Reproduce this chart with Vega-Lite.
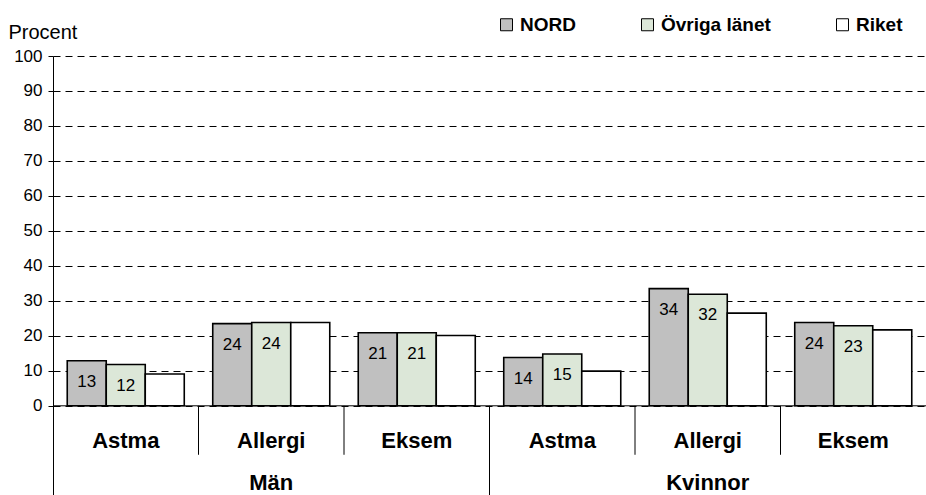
{
  "$schema": "https://vega.github.io/schema/vega-lite/v6.json",
  "width": 873,
  "height": 439,
  "autosize": {"type": "none"},
  "padding": {"left": 53, "top": 56, "right": 0, "bottom": 0},
  "background": "white",
  "config": {"view": {"stroke": null}, "font": "Liberation Sans"},
  "datasets": {
    "bars": [
      {"gender": "Män", "cat": "Astma", "grp": "Män Astma", "series": "NORD", "value": 12.9, "label": "13"},
      {"gender": "Män", "cat": "Astma", "grp": "Män Astma", "series": "Övriga länet", "value": 11.8, "label": "12"},
      {"gender": "Män", "cat": "Astma", "grp": "Män Astma", "series": "Riket", "value": 9.1, "label": ""},
      {"gender": "Män", "cat": "Allergi", "grp": "Män Allergi", "series": "NORD", "value": 23.5, "label": "24"},
      {"gender": "Män", "cat": "Allergi", "grp": "Män Allergi", "series": "Övriga länet", "value": 23.8, "label": "24"},
      {"gender": "Män", "cat": "Allergi", "grp": "Män Allergi", "series": "Riket", "value": 23.8, "label": ""},
      {"gender": "Män", "cat": "Eksem", "grp": "Män Eksem", "series": "NORD", "value": 20.9, "label": "21"},
      {"gender": "Män", "cat": "Eksem", "grp": "Män Eksem", "series": "Övriga länet", "value": 20.9, "label": "21"},
      {"gender": "Män", "cat": "Eksem", "grp": "Män Eksem", "series": "Riket", "value": 20.1, "label": ""},
      {"gender": "Kvinnor", "cat": "Astma", "grp": "Kvinnor Astma", "series": "NORD", "value": 13.8, "label": "14"},
      {"gender": "Kvinnor", "cat": "Astma", "grp": "Kvinnor Astma", "series": "Övriga länet", "value": 14.8, "label": "15"},
      {"gender": "Kvinnor", "cat": "Astma", "grp": "Kvinnor Astma", "series": "Riket", "value": 9.9, "label": ""},
      {"gender": "Kvinnor", "cat": "Allergi", "grp": "Kvinnor Allergi", "series": "NORD", "value": 33.5, "label": "34"},
      {"gender": "Kvinnor", "cat": "Allergi", "grp": "Kvinnor Allergi", "series": "Övriga länet", "value": 31.9, "label": "32"},
      {"gender": "Kvinnor", "cat": "Allergi", "grp": "Kvinnor Allergi", "series": "Riket", "value": 26.5, "label": ""},
      {"gender": "Kvinnor", "cat": "Eksem", "grp": "Kvinnor Eksem", "series": "NORD", "value": 23.8, "label": "24"},
      {"gender": "Kvinnor", "cat": "Eksem", "grp": "Kvinnor Eksem", "series": "Övriga länet", "value": 22.9, "label": "23"},
      {"gender": "Kvinnor", "cat": "Eksem", "grp": "Kvinnor Eksem", "series": "Riket", "value": 21.7, "label": ""}
    ],
    "groups": [
      {"grp": "Män Astma", "cat": "Astma"},
      {"grp": "Män Allergi", "cat": "Allergi"},
      {"grp": "Män Eksem", "cat": "Eksem"},
      {"grp": "Kvinnor Astma", "cat": "Astma"},
      {"grp": "Kvinnor Allergi", "cat": "Allergi"},
      {"grp": "Kvinnor Eksem", "cat": "Eksem"}
    ]
  },
  "layer": [
    {
      "data": {"name": "bars"},
      "mark": {"type": "bar", "stroke": "black", "strokeWidth": 1.6},
      "encoding": {
        "x": {"field": "grp", "type": "nominal", "scale": {"domain": ["Män Astma", "Män Allergi", "Män Eksem", "Kvinnor Astma", "Kvinnor Allergi", "Kvinnor Eksem"], "paddingInner": 0, "paddingOuter": 0}, "axis": null},
        "xOffset": {"field": "series", "type": "nominal", "scale": {"domain": ["NORD", "Övriga länet", "Riket"], "paddingInner": 0, "paddingOuter": 0.365}},
        "y": {"field": "value", "type": "quantitative", "scale": {"domain": [-25.5, 100], "nice": false},
          "axis": {"values": [0, 10, 20, 30, 40, 50, 60, 70, 80, 90, 100], "grid": true, "gridDash": [7, 5], "gridColor": "black", "gridWidth": 1, "gridOpacity": 1,
            "domainColor": "black", "domainWidth": 1, "tickColor": "black", "tickSize": 5, "tickWidth": 1,
            "labelFont": "Liberation Sans", "labelFontSize": 17, "labelColor": "black", "labelPadding": 6,
            "title": "Procent", "titleAngle": 0, "titleAlign": "left", "titleBaseline": "middle", "titleX": -45, "titleY": -24,
            "titleFont": "Liberation Sans", "titleFontSize": 20, "titleFontWeight": "normal", "titleColor": "black"}},
        "y2": {"datum": 0},
        "fill": {"field": "series", "type": "nominal", "scale": {"domain": ["NORD", "Övriga länet", "Riket"], "range": ["#c0c0c0", "#dce7d8", "#ffffff"]},
          "legend": {"orient": "none", "legendX": 444, "legendY": -41, "direction": "horizontal", "title": null,
            "symbolType": "square", "symbolSize": 144, "symbolStrokeColor": "black", "symbolStrokeWidth": 1, "symbolOpacity": 1,
            "labelFont": "Liberation Sans", "labelFontSize": 19, "labelFontWeight": "bold", "labelColor": "black", "labelOffset": 4,
            "columnPadding": 62}}
      }
    },
    {
      "data": {"name": "bars"},
      "mark": {"type": "text", "fontSize": 17, "baseline": "middle", "dy": 21, "color": "black", "font": "Liberation Sans"},
      "encoding": {
        "x": {"field": "grp", "type": "nominal"},
        "xOffset": {"field": "series", "type": "nominal"},
        "y": {"field": "value", "type": "quantitative"},
        "text": {"field": "label"}
      }
    },
    {
      "data": {"values": [{"z": 0}]},
      "mark": {"type": "rule", "color": "black", "strokeWidth": 1},
      "encoding": {"y": {"datum": 0}}
    },
    {
      "data": {"values": [{"grp": "Män Allergi"}, {"grp": "Män Eksem"}, {"grp": "Kvinnor Allergi"}, {"grp": "Kvinnor Eksem"}]},
      "mark": {"type": "rule", "color": "black", "strokeWidth": 1},
      "encoding": {
        "x": {"field": "grp", "type": "nominal", "bandPosition": 0},
        "y": {"datum": 0},
        "y2": {"datum": -14}
      }
    },
    {
      "data": {"values": [{"grp": "Kvinnor Astma"}]},
      "mark": {"type": "rule", "color": "black", "strokeWidth": 1},
      "encoding": {
        "x": {"field": "grp", "type": "nominal", "bandPosition": 0},
        "y": {"datum": 0},
        "y2": {"datum": -25.5}
      }
    },
    {
      "data": {"name": "groups"},
      "mark": {"type": "text", "fontSize": 22, "fontWeight": "bold", "baseline": "alphabetic", "color": "black", "font": "Liberation Sans"},
      "encoding": {
        "x": {"field": "grp", "type": "nominal", "bandPosition": 0.5},
        "y": {"datum": -12},
        "text": {"field": "cat"}
      }
    },
    {
      "data": {"values": [{"grp": "Män Allergi", "gender": "Män"}, {"grp": "Kvinnor Allergi", "gender": "Kvinnor"}]},
      "mark": {"type": "text", "fontSize": 22, "fontWeight": "bold", "baseline": "alphabetic", "color": "black", "font": "Liberation Sans"},
      "encoding": {
        "x": {"field": "grp", "type": "nominal", "bandPosition": 0.5},
        "y": {"datum": -24.2},
        "text": {"field": "gender"}
      }
    }
  ]
}
